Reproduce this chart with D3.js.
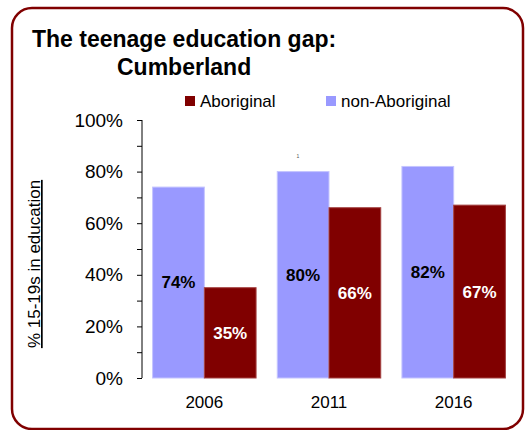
<!DOCTYPE html>
<html>
<head>
<meta charset="utf-8">
<script src="https://cdn.jsdelivr.net/npm/d3@7"></script>
<style>
  body { margin: 0; background: #fff; }
  svg { display: block; font-family: "Liberation Sans", Arial, sans-serif; }
  .tick-lbl { font-size: 19px; fill: #000; }
  .val { font-size: 17px; font-weight: bold; }
</style>
</head>
<body>
<div id="chart"></div>
<script>
// data
var years = ["2006", "2011", "2016"];
var nonAboriginal = [74, 80, 82];
var aboriginal = [35, 66, 67];
var seriesNames = ["non-Aboriginal", "Aboriginal"];
var yTicks = [0, 20, 40, 60, 80, 100];

var W = 531, H = 430;
var colors = { "non-Aboriginal": "#9999ff", "Aboriginal": "#800000" };
var strokes = { "non-Aboriginal": "#c4c4ff", "Aboriginal": "#a34040" };
var labelColor = { "non-Aboriginal": "#000", "Aboriginal": "#fff" };

var svg = d3.select("#chart").append("svg")
    .attr("width", W)
    .attr("height", H);

// rounded frame
svg.append("rect")
    .attr("x", 12).attr("y", 8)
    .attr("width", 511).attr("height", 421)
    .attr("rx", 20).attr("ry", 20)
    .attr("fill", "none")
    .attr("stroke", "#800000")
    .attr("stroke-width", 2.5);

// title
svg.append("text")
    .attr("x", 32).attr("y", 47)
    .style("font-size", "23px").style("font-weight", "bold")
    .text("The teenage education gap:");
svg.append("text")
    .attr("x", 117).attr("y", 75)
    .style("font-size", "23px").style("font-weight", "bold")
    .text("Cumberland");

var x0 = d3.scaleBand().domain(years).range([142, 516])
    .paddingInner(0.17).paddingOuter(0.085);
var x1 = d3.scaleBand().domain(seriesNames).range([0, x0.bandwidth()]);
var y = d3.scaleLinear().domain([0, 100]).range([378, 120]);

var rows = years.map(function (yr, i) {
  return { year: yr, values: [
    { key: "non-Aboriginal", v: nonAboriginal[i] },
    { key: "Aboriginal", v: aboriginal[i] }
  ]};
});

// y axis
var yAxis = d3.axisLeft(y)
    .tickValues(d3.range(0, 101, 10))
    .tickSize(5)
    .tickFormat(function (d) { return yTicks.indexOf(d) >= 0 ? d + "%" : ""; });
var yAxisG = svg.append("g")
    .attr("transform", "translate(142,0)")
    .call(yAxis);
yAxisG.select(".domain").attr("d", "M0," + y(0) + "V" + y(100)).attr("stroke", "#000");
yAxisG.selectAll(".tick line").attr("stroke", "#000");
yAxisG.selectAll(".tick text")
    .attr("class", "tick-lbl")
    .attr("x", -19)
    .style("font-family", "'Liberation Sans', Arial, sans-serif");

// axis title, underlined
svg.append("text")
    .attr("transform", "translate(40,264) rotate(-90)")
    .attr("text-anchor", "middle")
    .style("font-size", "17px")
    .style("text-decoration", "underline")
    .text("% 15-19s in education");

// bars
var groups = svg.selectAll(".grp").data(rows).enter().append("g")
    .attr("class", "grp")
    .attr("transform", function (d) { return "translate(" + x0(d.year) + ",0)"; });

groups.selectAll("rect").data(function (d) { return d.values; }).enter().append("rect")
    .attr("x", function (d) { return x1(d.key); })
    .attr("y", function (d) { return y(d.v); })
    .attr("width", x1.bandwidth())
    .attr("height", function (d) { return y(0) - y(d.v); })
    .attr("fill", function (d) { return colors[d.key]; })
    .attr("stroke", function (d) { return strokes[d.key]; })
    .attr("stroke-width", 1);

groups.selectAll("text.val").data(function (d) { return d.values; }).enter().append("text")
    .attr("class", "val")
    .attr("x", function (d) { return x1(d.key) + x1.bandwidth() / 2; })
    .attr("y", function (d) { return (y(d.v) + y(0)) / 2; })
    .attr("dy", "0.35em")
    .attr("text-anchor", "middle")
    .attr("fill", function (d) { return labelColor[d.key]; })
    .text(function (d) { return d.v + "%"; });

// category labels
svg.selectAll(".xlbl").data(years).enter().append("text")
    .attr("class", "xlbl")
    .attr("x", function (d) { return x0(d) + x0.bandwidth() / 2; })
    .attr("y", 408)
    .attr("text-anchor", "middle")
    .style("font-size", "17px")
    .text(function (d) { return d; });

// legend
var legendItems = [
  { key: "Aboriginal", x: 185 },
  { key: "non-Aboriginal", x: 326 }
];
var lg = svg.selectAll(".lg").data(legendItems).enter().append("g")
    .attr("class", "lg")
    .attr("transform", function (d) { return "translate(" + d.x + ",96)"; });
lg.append("rect")
    .attr("width", 10).attr("height", 10)
    .attr("fill", function (d) { return colors[d.key]; });
lg.append("text")
    .attr("x", 15).attr("y", 11)
    .style("font-size", "17px")
    .text(function (d) { return d.key; });

// stray marker seen above the 2011 bars
svg.append("text")
    .attr("x", 298).attr("y", 158)
    .attr("text-anchor", "middle")
    .style("font-size", "5px")
    .attr("fill", "#555")
    .text("1");
</script>
</body>
</html>
